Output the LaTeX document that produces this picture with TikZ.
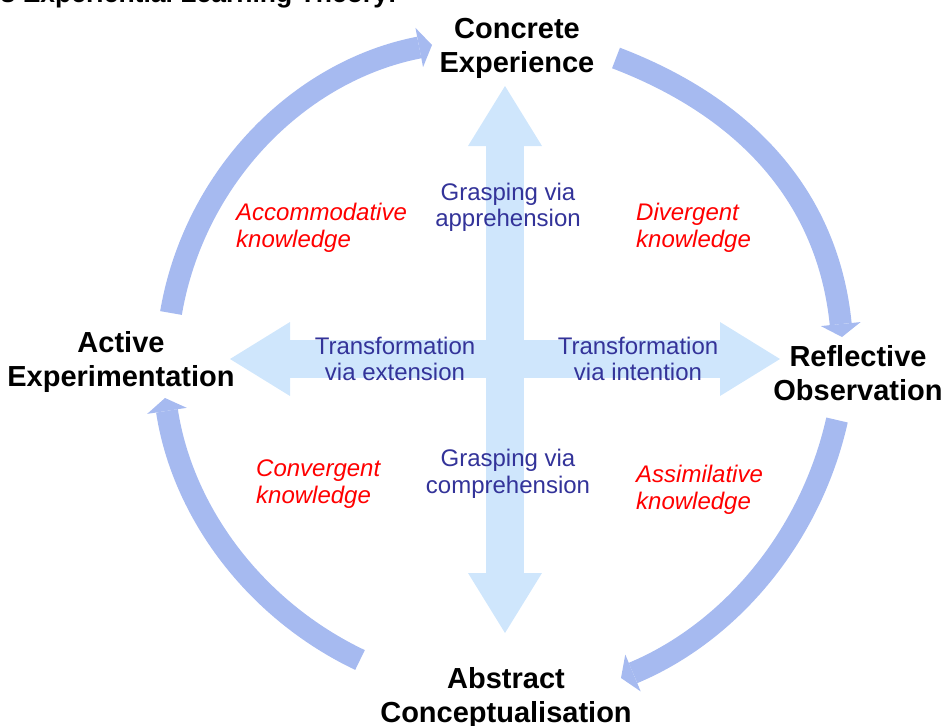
\documentclass[tikz,border=0pt]{standalone}
\usepackage{fontspec}
\setmainfont{Liberation Sans}
\usetikzlibrary{arrows.meta}
\definecolor{cyclearc}{RGB}{166,186,240}
\definecolor{crossarm}{RGB}{207,230,252}
\definecolor{modeblue}{RGB}{51,51,153}
\newcommand{\twolines}[2]{#1 \\ #2}

\begin{document}
\begin{tikzpicture}[x = 1pt, y = -1pt, every node/.style = {inner sep = 0pt, align = center},
	stage/.style = {font = \bfseries\fontsize{29}{34}\selectfont},
	mode/.style = {text = modeblue, font = \fontsize{24}{26.5}\selectfont},
	knowledge/.style = {text = red, anchor = west, align = left, font = \itshape\fontsize{24}{27}\selectfont},
	cyclearrow/.style = {draw = cyclearc, line width = 22pt, -{Triangle[length = 13pt, width = 40pt, line width = 0pt]}},
	crossarrow/.style = {draw = crossarm, line width = 38pt, {Triangle[length = 60pt, width = 74pt, line width = 0pt]}-{Triangle[length = 60pt, width = 74pt, line width = 0pt]}}]

	\useasboundingbox (0, 0) rectangle (944, 725);
	\clip (0, 0) rectangle (944, 725);

	\coordinate (CEout) at (616, 58);
	\coordinate (ROin)  at (842, 337);
	\coordinate (ROout) at (837, 420);
	\coordinate (ACin)  at (621, 678);
	\coordinate (ACout) at (360, 660);
	\coordinate (AEin)  at (165, 398);
	\coordinate (AEout) at (171, 313);
	\coordinate (CEin)  at (432, 45);

	\coordinate (graspup)    at (505, 86);
	\coordinate (graspdown)  at (505, 633);
	\coordinate (transleft)  at (230, 359);
	\coordinate (transright) at (780, 359);

	\draw [crossarrow] (transleft) -- (transright);
	\draw [crossarrow] (graspdown) -- (graspup);

	\foreach \from/\ax/\ay/\bx/\by/\to in {CEout/131/50/-14/-139/ROin, ROout/-26/116/110/-46/ACin, ACout/-105/-50/17.5/114.4/AEin, AEout/23/-135/-134/26/CEin}
		\draw [cyclearrow] (\from) .. controls +(\ax, \ay) and +(\bx, \by) .. (\to);

	\node (title) at (397, 3) [anchor = base east, font = \bfseries\fontsize{26.5}{30}\selectfont] {Kolb's Experiential Learning Theory:};

	\node (CE) at (517, 48)  [stage] {\twolines{Concrete}{Experience}};
	\node (RO) at (858, 373) [stage] {\twolines{Reflective}{Observation}};
	\node (AC) at (506, 698) [stage] {\twolines{Abstract}{Conceptualisation}};
	\node (AE) at (121, 362) [stage] {\twolines{Active}{Experimentation}};

	\node (apprehension)  at (508, 207.5) [mode] {\twolines{Grasping via}{apprehension}};
	\node (comprehension) at (508, 474)   [mode] {\twolines{Grasping via}{comprehension}};
	\node (extension)     at (395, 359)   [mode] {\twolines{Transformation}{via extension}};
	\node (intention)     at (638, 359)   [mode] {\twolines{Transformation}{via intention}};

	\node (accommodative) at (236, 228) [knowledge] {\twolines{Accommodative}{knowledge}};
	\node (divergent)     at (636, 228) [knowledge] {\twolines{Divergent}{knowledge}};
	\node (convergent)    at (256, 484) [knowledge] {\twolines{Convergent}{knowledge}};
	\node (assimilative)  at (636, 490) [knowledge] {\twolines{Assimilative}{knowledge}};
\end{tikzpicture}
\end{document}
